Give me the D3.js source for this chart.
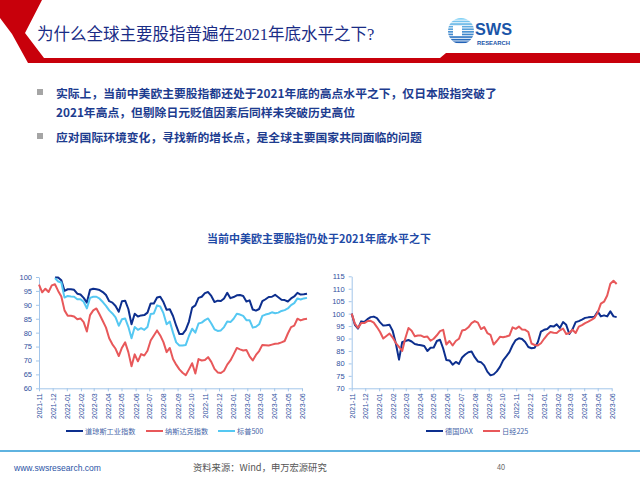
<!DOCTYPE html>
<html>
<head>
<meta charset="utf-8">
<script src="https://cdn.jsdelivr.net/npm/d3@7"></script>
<style>
body{margin:0;background:#fff}
svg{display:block}
</style>
</head>
<body>
<div id="chart"></div>
<script>
const width = 640
const height = 480

// weekly closes from the first week of 2021-11, normalised
const startWeek = new Date(2021, 10, 1)
const monthFirst = new Date(2021, 10, 1)
const monthLast = new Date(2023, 5, 1)

const nasdaq = [97.3,94.5,95.8,94.6,97,97.4,95,93,88,86.1,
86.1,85.8,84.8,85.1,83.8,80.4,86.3,88,88.7,86.5,
84.2,81.8,78,75.8,74.2,71.6,74.6,76.5,73,67.9,
72.2,69.7,72.3,71.8,73.5,77.2,79,80.8,79,76.6,
73,74.5,70.5,68.5,66.8,65.6,64.7,66.8,69,65.3,
70.5,70,70.2,71.2,69.5,67,65.7,65.5,66.3,68.5,
70,72.2,74.5,74,73.6,73.8,71.5,70,72,73.4,
75.6,75.5,75.4,75.7,76,76.1,76.5,77,79.7,82,
82.5,85,84.4,84.8,85]

const dow = [null,null,null,null,null,99.8,99.8,98.8,95,95.6,
95.6,95.4,94,93.7,92.5,90.8,95.4,95.8,95.6,95.3,
94.6,93.5,91.3,90.8,89.6,87.5,91.3,91.5,88.5,83,
86.8,85.8,86.2,86.3,87.2,90.5,90.5,92.6,92.9,91,
88.2,88.4,86,82.5,79.5,79.5,81,84,89,89.8,
92.5,92.9,94.2,94.6,93.2,91,91.5,91.4,92.3,94.3,
92.4,92.8,93.4,93.5,93.2,91.2,91.6,88.3,87.9,88.5,
91.3,92,92.8,92.9,93.6,92.7,91.8,91.7,91.2,92.3,
93,94.3,93.7,93.8,94]

const sp500 = [null,null,null,null,null,99.6,98.4,98,92.6,93.2,
93,92.9,92,92,91.1,88.7,92.5,92.9,92.9,92.2,
91,89.6,88,86.9,85.5,82.5,84.8,85.1,82.1,78,
82,81,81.6,81,82,86.7,86.9,89.8,89.4,87,
83,84,80,76.5,75.4,75.4,75.6,78.8,81.4,80,
83.3,83.6,84.5,85.1,83.3,81.2,80.6,80.8,82,84,
83.8,85,86.8,86.5,86,84.5,84.5,81.8,82.1,83,
86,86.5,86.8,87.3,87,87.2,87.8,88.1,88.7,89.9,
90.6,92.3,91.9,92.3,92.5]

const dax = [100,95.5,94,96.9,96.6,97.8,98.6,98.8,98.2,96.5,
95.2,95.3,95.5,93,88,81.5,88.5,89,89.4,88.8,
87.8,87.5,87.3,87,85,86.3,86.4,89,89.5,86,
81.4,81.2,79.5,80.6,79.8,82.4,83.6,84.5,84.8,82.5,
80.8,80.5,79.2,76.7,75.2,75.6,76.8,78.6,81.2,82.8,
84.5,87.3,89.4,90.1,89.8,88.6,86.6,86.1,86.3,88.5,
92.8,93.5,93.8,95,94.8,95.7,94.2,96.6,95.5,91.8,
93.7,96.6,97,97.6,98.3,98.5,98.6,98.8,100.8,98.9,
99.3,98.9,100.9,98.9,98.6]

const nikkei = [100,96,94.3,96.2,96.2,97,97.1,96.4,94.6,92.6,
90,91,92,90.4,88.2,86.6,85,90.1,94.2,93.1,
90.9,91.2,91.2,90.6,90.8,89.1,89.9,91.3,93,93.5,
87.6,89,87.2,89,89.9,93.2,93.5,94.5,96.2,97,
96.4,93.8,94.6,92.2,91.5,87.6,89,90.7,90.5,90.8,
91.2,94.5,93.9,94.8,93.6,93.5,92.6,88,87.4,87.2,
88.1,89.9,91.5,92.6,92.3,92.2,93.3,94,91.8,92.2,
93.5,92.2,94.8,95.4,96.2,96.8,97.5,98.3,100.5,104,
104.8,107.3,112,113.2,111.9]

const leftNames = ["道琼斯工业指数","纳斯达克指数","标普500"]
const rightNames = ["德国DAX","日经225"]
const leftYTicks = [60,65,70,75,80,85,90,95,100]
const rightYTicks = [70,75,80,85,90,95,100,105,110,115]

const weeks = nasdaq.map((d,i)=>d3.timeDay.offset(startWeek, 7*i))

const navy = "#0d2f8e"
const red = "#e8585a"
const sky = "#55c8f2"
const axisCol = "#a3c6ea"
const labelCol = "#2f509e"
const cjk = "'Noto Sans CJK SC', 'Noto Sans', sans-serif"
const latin = "'Liberation Sans', Arial, sans-serif"

const svg = d3.select("#chart")
.append("svg")
.attr("width",width)
.attr("height",height)

svg.append("rect").attr("width",width).attr("height",height).attr("fill","#fff")

// header: red chevron + bar
svg.append("path")
.attr("d","M0,0 L42,0 L25,33 L44,58 L440,58 L446,53 L640,53 L640,63 L28,63 L12,34 L0,18 Z")
.attr("fill","#c8000b")

svg.append("text")
.attr("x",37)
.attr("y",34)
.attr("dominant-baseline","central")
.attr("font-family","'Liberation Serif', 'Noto Sans CJK SC', serif")
.attr("font-size",16.5)
.attr("fill","#1a2c86")
.text("为什么全球主要股指普遍在2021年底水平之下?")

// SWS logo
const logo = svg.append("g")
const clip = svg.append("defs").append("clipPath").attr("id","logoClip")
clip.append("circle").attr("cx",461).attr("cy",31).attr("r",13)
const stripes = logo.append("g").attr("clip-path","url(#logoClip)")
d3.range(18,45,2.6).forEach((y,i)=>{
  stripes.append("rect").attr("x",446).attr("y",y).attr("width",30).attr("height",1.7)
  .attr("fill",d3.interpolateRgb("#7fd0f5","#1656b0")(i/10))
})
logo.append("rect").attr("x",453).attr("y",26).attr("width",9).attr("height",10).attr("fill","#fff")
logo.append("text").attr("x",475).attr("y",35)
.attr("font-family",latin).attr("font-weight","bold")
.attr("font-size",17).attr("fill","#1a55a8").attr("textLength",37).attr("lengthAdjust","spacingAndGlyphs")
.text("SWS")
logo.append("text").attr("x",477).attr("y",44.5)
.attr("font-family",latin).attr("font-weight","bold")
.attr("font-size",5).attr("fill","#1a55a8").attr("textLength",33).attr("lengthAdjust","spacingAndGlyphs")
.text("RESEARCH")

// bullets
const bullets = [
  {y:92, lines:["实际上，当前中美欧主要股指都还处于2021年底的高点水平之下，仅日本股指突破了","2021年高点，但剔除日元贬值因素后同样未突破历史高位"]},
  {y:136, lines:["应对国际环境变化，寻找新的增长点，是全球主要国家共同面临的问题"]}
]
bullets.forEach(b=>{
  svg.append("rect").attr("x",37).attr("y",b.y-3).attr("width",6).attr("height",6).attr("fill","#a5a5a5")
  b.lines.forEach((t,i)=>{
    svg.append("text")
    .attr("x",56)
    .attr("y",b.y+i*19)
    .attr("dominant-baseline","central")
    .attr("font-family",cjk)
    .attr("font-weight","bold")
    .attr("font-size",11.8)
    .attr("fill","#1d3c8f")
    .text(t)
  })
})

svg.append("text")
.attr("x",319)
.attr("y",238)
.attr("text-anchor","middle")
.attr("dominant-baseline","central")
.attr("font-family",cjk)
.attr("font-weight","bold")
.attr("font-size",11)
.attr("fill","#1f4aa6")
.text("当前中美欧主要股指仍处于2021年底水平之下")

function drawPanel(p){
  const x = d3.scaleTime().domain([monthFirst, monthLast]).range([p.x0, p.x1])
  const y = d3.scaleLinear().domain(p.yDomain).range([p.yBot, p.yTop])
  const g = svg.append("g")

  const yAxis = g.append("g")
  .attr("transform",`translate(${p.x0},0)`)
  .call(d3.axisLeft(y).tickValues(p.yTicks).tickSize(3).tickSizeOuter(0))
  yAxis.selectAll("text").attr("font-size",7.5).attr("fill",labelCol)
  .attr("font-family",latin).attr("x",-7)

  const xAxis = g.append("g")
  .attr("transform",`translate(0,${p.yBot})`)
  .call(d3.axisBottom(x).ticks(d3.timeMonth.every(1)).tickFormat(d3.timeFormat("%Y-%m")).tickSize(3).tickSizeOuter(0))
  xAxis.selectAll("text")
  .attr("font-size",7)
  .attr("fill",labelCol)
  .attr("font-family",latin)
  .attr("text-anchor","end")
  .attr("transform","rotate(-90)")
  .attr("x",-5)
  .attr("y",0)
  .attr("dy","0.35em")

  g.selectAll(".domain, .tick line").attr("stroke",axisCol)

  const line = d3.line()
  .defined(d=>d.v!=null)
  .x(d=>x(d.t))
  .y(d=>y(d.v))

  p.series.forEach(s=>{
    g.append("path")
    .datum(s.values.map((v,i)=>({t:weeks[i], v})))
    .attr("fill","none")
    .attr("stroke",s.color)
    .attr("stroke-width",2)
    .attr("stroke-linejoin","round")
    .attr("d",line)
  })

  // legend
  p.series.forEach((s,i)=>{
    const lx = p.legendX[i]
    g.append("line").attr("x1",lx).attr("x2",lx+17).attr("y1",p.legendY).attr("y2",p.legendY)
    .attr("stroke",s.color).attr("stroke-width",2)
    g.append("text").attr("x",lx+19).attr("y",p.legendY).attr("dominant-baseline","central")
    .attr("font-family",cjk).attr("font-size",7.2).attr("fill","#4565a8").text(s.name)
  })
}

drawPanel({
  x0:39, x1:302, yTop:277, yBot:388.3, yDomain:[60,100], yTicks:leftYTicks,
  legendX:[66,146,218], legendY:431,
  series:[
    {name:leftNames[0], values:dow, color:navy},
    {name:leftNames[1], values:nasdaq, color:red},
    {name:leftNames[2], values:sp500, color:sky}
  ]
})

drawPanel({
  x0:351.7, x1:611.7, yTop:276.3, yBot:388.3, yDomain:[70,115], yTicks:rightYTicks,
  legendX:[426,483], legendY:431,
  series:[
    {name:rightNames[0], values:dax, color:navy},
    {name:rightNames[1], values:nikkei, color:red}
  ]
})

// footer
svg.append("line").attr("x1",0).attr("x2",width).attr("y1",451).attr("y2",451)
.attr("stroke","#2a9ad6").attr("stroke-width",1.5)

svg.append("text").attr("x",14).attr("y",467).attr("dominant-baseline","central")
.attr("font-family",latin).attr("font-size",9.5)
.attr("textLength",87).attr("lengthAdjust","spacingAndGlyphs")
.attr("fill","#2b55a6").text("www.swsresearch.com")

svg.append("text").attr("x",193).attr("y",467).attr("dominant-baseline","central")
.attr("font-family",cjk).attr("font-size",9.3)
.attr("fill","#555").text("资料来源：Wind，申万宏源研究")

svg.append("text").attr("x",497).attr("y",467).attr("dominant-baseline","central")
.attr("font-family",latin).attr("font-size",9)
.attr("textLength",8).attr("lengthAdjust","spacingAndGlyphs")
.attr("fill","#666").text("40")
</script>
</body>
</html>
